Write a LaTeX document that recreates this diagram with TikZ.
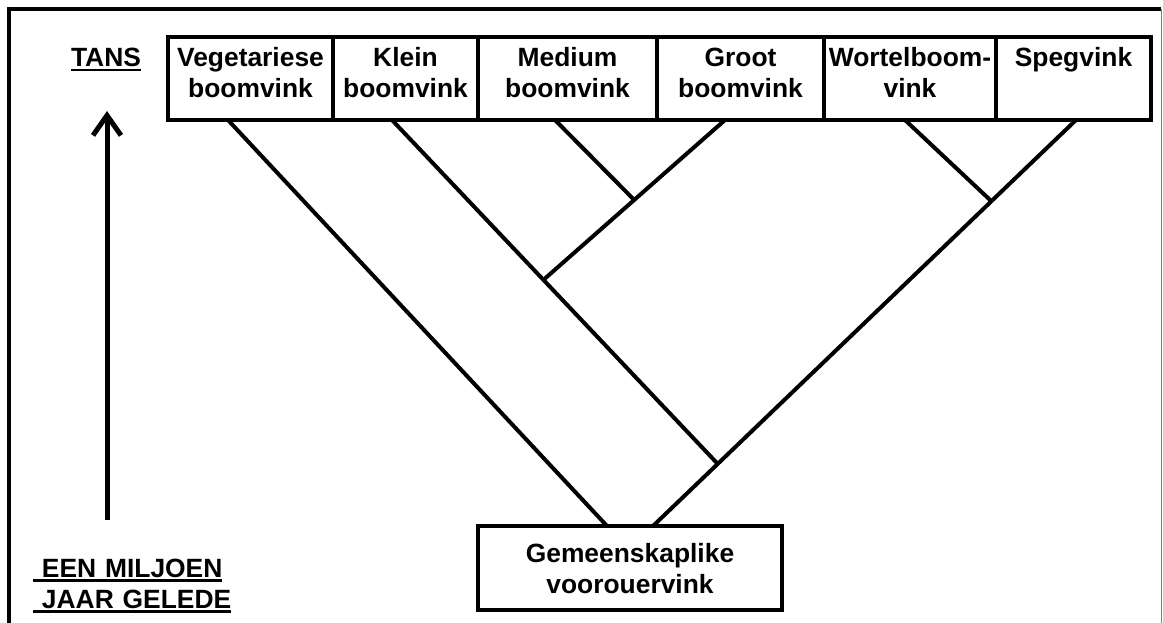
\documentclass[tikz,border=0pt]{standalone}
\usepackage{fontspec}
\setmainfont{Liberation Sans}
\usetikzlibrary{positioning,calc,arrows.meta}
% thick underline as in the scan
\newcommand\ulword[1]{\leavevmode\setbox0\hbox{#1}\rlap{\rule[-4.5pt]{\wd0}{2.5pt}}\box0}
\tikzset{
  vink/.style={draw, line width=3.5pt, outer sep=0pt, inner xsep=0pt, inner ysep=10pt,
    text width=#1, text height=20pt, text depth=43pt, align=center},
  tak/.style={line width=4pt},
}
\begin{document}
\begin{tikzpicture}[x=1pt, y=-1pt, >={Straight Barb[length=20pt,width=28pt]},
    font=\bfseries\fontsize{26.4}{31}\selectfont]
  \useasboundingbox (0,0) rectangle (1163,623);
  % frame
  \draw[line width=4pt] (9,623) -- (9,9) -- (1161,9);
  \draw[gray, line width=1pt] (1161,9) -- (1161,623);
  % species now
  \node[vink=165pt, anchor=north west] (veg) at (168,37) {Vegetariese\\boomvink};
  \node[vink=145pt, right=0pt of veg] (klein) {Klein\\boomvink};
  \node[vink=179pt, right=0pt of klein] (medium) {Medium\\boomvink};
  \node[vink=167pt, right=0pt of medium] (groot) {Groot\\boomvink};
  \node[vink=172pt, right=0pt of groot] (wortel) {Wortelboom-\\vink};
  \node[vink=155pt, right=0pt of wortel] (speg) {Spegvink};
  % ancestor
  \node[vink=304pt, text height=26pt, text depth=38pt, anchor=north west] (anc)
    at (478,526) {Gemeenskaplike\\voorouervink};
  % time axis
  \node[anchor=base, inner sep=0pt] (tans) at (106,67) {\ulword{TANS}};
  \node[anchor=base west, inner sep=0pt, text width=220pt, align=left] (gelede)
    at (33,577) {\ulword{\ EEN MILJOEN}\\\ulword{\ JAAR GELEDE}};
  \coordinate (past) at (107,520);
  \coordinate (now) at (107,111);
  \draw[->, line width=5pt] (past) -- (now);
  % branch ends
  \coordinate (vegb) at ([xshift=-22.5pt]veg.south);
  \coordinate (kleinb) at ([xshift=-13.5pt]klein.south);
  \coordinate (medb) at ([xshift=-12.5pt]medium.south);
  \coordinate (grootb) at ([xshift=-15.5pt]groot.south);
  \coordinate (wortb) at ([xshift=-5pt]wortel.south);
  \coordinate (spegb) at ([xshift=2.5pt]speg.south);
  \coordinate (ancl) at ([xshift=129pt]anc.north west);
  \coordinate (ancr) at ([xshift=175pt]anc.north west);
  % forks
  \coordinate (j4) at ($(spegb)!0.847!(ancr)$);
  \coordinate (j3) at ($(spegb)!0.2!(ancr)$);
  \coordinate (j2) at ($(kleinb)!0.4649!(j4)$);
  \coordinate (j1) at ($(grootb)!0.5!(j2)$);
  \draw[tak] (vegb) -- (ancl);
  \draw[tak] (spegb) -- (ancr);
  \draw[tak] (kleinb) -- (j4);
  \draw[tak] (grootb) -- (j2);
  \draw[tak] (medb) -- (j1);
  \draw[tak] (wortb) -- (j3);
\end{tikzpicture}
\end{document}
